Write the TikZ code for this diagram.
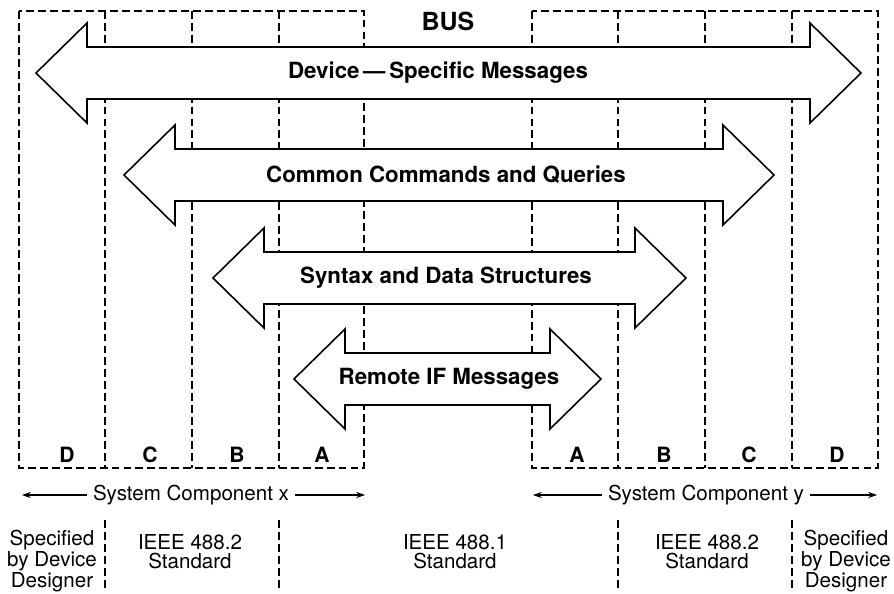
\documentclass[tikz,border=0pt]{standalone}
\usepackage{fontspec}
\setmainfont{TeX Gyre Heros}
\usetikzlibrary{positioning,arrows.meta}
\tikzset{
  boxline/.style={line width=0.6pt, dash pattern=on 4.5pt off 2.3pt},
  busarrow/.style={fill=white, draw=black, line width=0.9pt, line join=miter},
  arrowtext/.style={font=\fontsize{12.7}{14}\selectfont\bfseries},
  slotlabel/.style={font=\fontsize{12}{14}\selectfont\bfseries},
  legend/.style={font=\fontsize{11.7}{11}\selectfont, align=center, inner sep=0pt},
  sysline/.style={line width=0.6pt, -{Stealth[length=5pt, width=3.5pt]}}
}
% two-headed bus arrow: left tip x, right tip x, centre y
\newcommand{\busoutline}[3]{%
  \draw[busarrow] (#1,#3) -- (#1+51,#3-50) -- (#1+51,#3-26) -- (#2-51,#3-26)
    -- (#2-51,#3-50) -- (#2,#3) -- (#2-51,#3+50) -- (#2-51,#3+26)
    -- (#1+51,#3+26) -- (#1+51,#3+50) -- cycle;}

\begin{document}
\begin{tikzpicture}[x=0.02cm, y=-0.02cm]
\useasboundingbox (0,0) rectangle (894,593);

% Dashed outline of system component x
\draw[boxline] (19,11) rectangle (364,468);
\draw[boxline] (105,11) -- (105,468);
\draw[boxline] (192,11) -- (192,468);
\draw[boxline] (279,11) -- (279,468);

% Dashed outline of system component y
\draw[boxline] (532,11) rectangle (878,468);
\draw[boxline] (618,11) -- (618,468);
\draw[boxline] (705,11) -- (705,468);
\draw[boxline] (792,11) -- (792,468);

\node[font=\fontsize{14.2}{16}\selectfont\bfseries] (bus) at (448,21) {BUS};

% Message arrows across the bus
\busoutline{36}{861}{73}
\busoutline{124}{774}{175}
\busoutline{213}{686}{278}
\busoutline{294}{601}{379}
\node[arrowtext] (dsm) at (438,73)  {Device\,---\,Specific Messages};
\node[arrowtext] (ccq) at (446,175) {Common Commands and Queries};
\node[arrowtext] (sds) at (446,278) {Syntax and Data Structures};
\node[arrowtext] (rif) at (449,379) {Remote IF Messages};

% Layer letters
\node[slotlabel] (xD) at (67,455)  {D};
\node[slotlabel] (xC) at (150,455) {C};
\node[slotlabel] (xB) at (237,455) {B};
\node[slotlabel] (xA) at (322,455) {A};
\node[slotlabel] (yA) at (577,455) {A};
\node[slotlabel] (yB) at (664,455) {B};
\node[slotlabel] (yC) at (749,455) {C};
\node[slotlabel] (yD) at (837,455) {D};

% System component spans
\node[font=\fontsize{11.7}{14}\selectfont] (sysx) at (191,495) {System Component x};
\node[font=\fontsize{11.7}{14}\selectfont] (sysy) at (706,495) {System Component y};
\coordinate (sxl) at (22,495);
\coordinate (sxr) at (365,495);
\coordinate (syl) at (533,495);
\coordinate (syr) at (877,495);
\draw[sysline] (sysx.west) -- (sxl);
\draw[sysline] (sysx.east) -- (sxr);
\draw[sysline] (sysy.west) -- (syl);
\draw[sysline] (sysy.east) -- (syr);

% Who specifies each layer
\draw[boxline] (105,520) -- (105,588);
\draw[boxline] (279,520) -- (279,588);
\draw[boxline] (618,520) -- (618,588);
\draw[boxline] (792,520) -- (792,588);
\node[legend] (specx) at (52,561)  {Specified\\by Device\\Designer};
\node[legend] (stdx)  at (190,552) {IEEE 488.2\\Standard};
\node[legend] (stdbus) at (455,552) {IEEE 488.1\\Standard};
\node[legend] (stdy)  at (707,552) {IEEE 488.2\\Standard};
\node[legend] (specy) at (846,561) {Specified\\by Device\\Designer};

\end{tikzpicture}
\end{document}
